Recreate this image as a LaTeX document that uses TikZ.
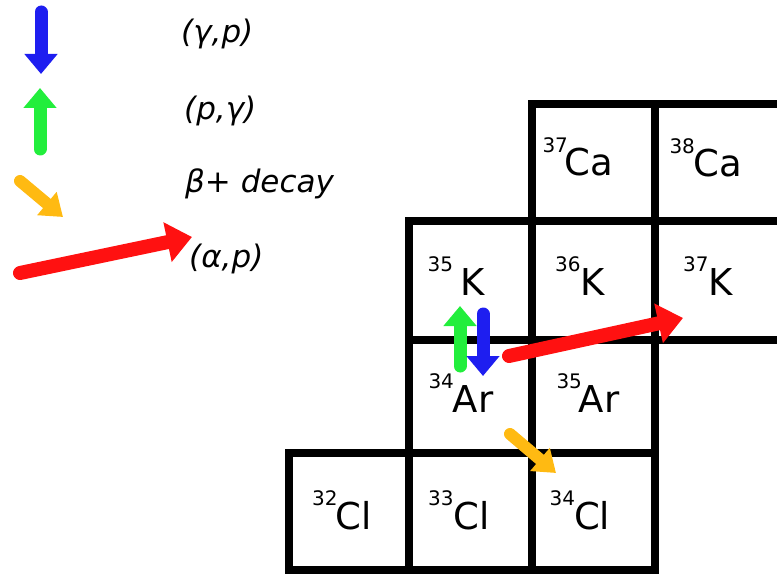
\documentclass[tikz,border=0pt]{standalone}
\usepackage{fontspec}
\setmainfont{DejaVu Sans}[ItalicFont={DejaVu Sans Oblique}]
\usetikzlibrary{arrows.meta}
\definecolor{GammaBlue}{HTML}{1E1EF0}
\definecolor{ProtonGreen}{HTML}{22EE3C}
\definecolor{BetaYellow}{HTML}{FFBA12}
\definecolor{AlphaRed}{HTML}{FF1111}
\newcommand{\iso}[2]{\raisebox{24pt}{\fontsize{20}{20}\selectfont #1}#2}
\tikzset{
  chartline/.style={line width=8pt},
  nuclide/.style={font=\fontsize{37}{40}\selectfont, inner sep=0pt, anchor=base},
  legendtext/.style={font=\fontsize{31}{33}\selectfont\itshape, inner sep=0pt, anchor=base west},
  gammap/.style={GammaBlue, line width=13pt, line cap=round, -{Triangle[length=20pt,width=32pt]}},
  pgamma/.style={ProtonGreen, line width=13pt, line cap=round, -{Triangle[length=20pt,width=32pt]}},
  betadecay/.style={BetaYellow, line width=12pt, line cap=round, -{Triangle[length=21pt,width=29pt]}},
  alphap/.style={AlphaRed, line width=14pt, line cap=round, -{Triangle[length=25pt,width=39pt]}}
}

\begin{document}
\begin{tikzpicture}[x=1pt,y=-1pt]
  \useasboundingbox (0,0) rectangle (777,575);
  \clip (0,0) rectangle (777,575);

  % chart cells
  \draw[chartline] (532,104) rectangle (655,221);
  \draw[chartline] (655,104) rectangle (800,221);
  \draw[chartline] (409,221) rectangle (532,340);
  \draw[chartline] (532,221) rectangle (655,340);
  \draw[chartline] (655,221) rectangle (800,340);
  \draw[chartline] (409,340) rectangle (532,453);
  \draw[chartline] (532,340) rectangle (655,453);
  \draw[chartline] (289,453) rectangle (409,570);
  \draw[chartline] (409,453) rectangle (532,570);
  \draw[chartline] (532,453) rectangle (655,570);

  % nuclides
  \node[nuclide] (ca37) at (578,176) {\iso{37}{\kern-3pt Ca}};
  \node[nuclide] (ca38) at (706,177) {\iso{38}{\kern-1pt Ca}};
  \node[nuclide] (k35) at (456,295) {\iso{35}{\hspace{7pt}K}};
  \node[nuclide] (k36) at (580,295) {\iso{36}{K}};
  \node[nuclide] (k37) at (708,295) {\iso{37}{K}};
  \node[nuclide] (ar34) at (461,412) {\iso{34}{\kern-1pt Ar}};
  \node[nuclide] (ar35) at (588,412) {\iso{35}{\kern-3pt Ar}};
  \node[nuclide] (cl32) at (342,529) {\iso{32}{\kern-2pt Cl}};
  \node[nuclide] (cl33) at (459,529) {\iso{33}{Cl}};
  \node[nuclide] (cl34) at (580,529) {\iso{34}{\kern-1pt Cl}};

  % legend
  \coordinate (gpTop) at (41,12);
  \coordinate (gpTip) at (41,74);
  \coordinate (pgBot) at (40,149);
  \coordinate (pgTip) at (40,88);
  \coordinate (bdTail) at (20,181);
  \coordinate (bdTip) at (63,217);
  \coordinate (apTail) at (20,273);
  \coordinate (apTip) at (192,237);
  \draw[gammap] (gpTop) -- (gpTip);
  \draw[pgamma] (pgBot) -- (pgTip);
  \draw[betadecay] (bdTail) -- (bdTip);
  \draw[alphap] (apTail) -- (apTip);
  \node[legendtext] (gplabel) at (181,43) {(γ,p)};
  \node[legendtext] (pglabel) at (184,120) {(p,γ)};
  \node[legendtext] (bdlabel) at (185,193) {β+ decay};
  \node[legendtext] (aplabel) at (189,267) {(α,p)};

  % reactions out of 34Ar
  \coordinate (ar34up) at (460,366);
  \coordinate (k35up) at (460,306);
  \coordinate (k35down) at (483,314);
  \coordinate (ar34down) at (483,376);
  \coordinate (ar34right) at (509,356);
  \coordinate (k37left) at (683,318);
  \coordinate (ar34low) at (510,434);
  \coordinate (cl34top) at (556,473);
  \draw[pgamma] (ar34up) -- (k35up);
  \draw[gammap] (k35down) -- (ar34down);
  \draw[alphap] (ar34right) -- (k37left);
  \draw[betadecay] (ar34low) -- (cl34top);
\end{tikzpicture}
\end{document}
